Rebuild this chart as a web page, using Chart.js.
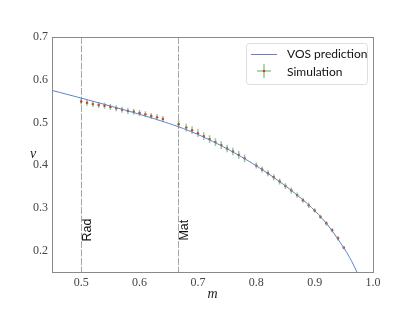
<!DOCTYPE html>
<html>
<head>
<meta charset="utf-8">
<script src="https://cdn.jsdelivr.net/npm/chart.js@4/dist/chart.umd.min.js"></script>
<style>
  html, body { margin: 0; padding: 0; background: #fff; }
  #wrap { width: 415px; height: 312px; }
</style>
</head>
<body>
<div id="wrap"><canvas id="myChart" width="415" height="312"></canvas></div>
<script>
// VOS prediction curve
const vosM = [0.45, 0.475, 0.50, 0.525, 0.55, 0.575, 0.60, 0.625, 0.65, 0.675, 0.70, 0.725, 0.75, 0.775, 0.80, 0.825, 0.85, 0.875, 0.90, 0.925, 0.95, 0.96, 0.965, 0.97, 0.975, 0.98];
const vosV = [0.575, 0.5661, 0.557, 0.5478, 0.5385, 0.529, 0.5191, 0.5088, 0.4978, 0.4858, 0.4718, 0.4558, 0.4383, 0.4193, 0.3985, 0.376, 0.3515, 0.3245, 0.294, 0.2553, 0.2065, 0.184, 0.171, 0.157, 0.142, 0.126];

// simulation points with error bars
const simM = [0.50, 0.51, 0.52, 0.53, 0.54, 0.55, 0.56, 0.57, 0.58, 0.59, 0.60, 0.61, 0.62, 0.63, 0.64,
              0.667, 0.68, 0.69, 0.70, 0.71, 0.72, 0.73, 0.74, 0.75, 0.76, 0.77, 0.78,
              0.80, 0.81, 0.82, 0.83, 0.84, 0.85, 0.86, 0.87, 0.88, 0.89, 0.90, 0.91, 0.92, 0.93, 0.94, 0.95];
const simV = [0.549, 0.546, 0.543, 0.541, 0.539, 0.536, 0.533, 0.530, 0.527, 0.525, 0.522, 0.519, 0.515, 0.512, 0.508,
              0.496, 0.488, 0.482, 0.475, 0.468, 0.461, 0.454, 0.447, 0.439, 0.432, 0.424, 0.416,
              0.399, 0.390, 0.381, 0.372, 0.362, 0.351, 0.341, 0.330, 0.318, 0.306, 0.294, 0.279, 0.264, 0.248, 0.229, 0.207];
const simErr = [0.007, 0.007, 0.007, 0.007, 0.007, 0.007, 0.007, 0.007, 0.007, 0.007, 0.007, 0.007, 0.007, 0.007, 0.007,
                0.009, 0.009, 0.009, 0.009, 0.009, 0.009, 0.009, 0.009, 0.009, 0.009, 0.009, 0.009,
                0.007, 0.007, 0.007, 0.007, 0.007, 0.007, 0.007, 0.006, 0.006, 0.006, 0.005, 0.005, 0.005, 0.005, 0.005, 0.004];
const simMErr = 0.002;

const xTicks = [0.5, 0.6, 0.7, 0.8, 0.9, 1.0];
const yTicks = [0.2, 0.3, 0.4, 0.5, 0.6, 0.7];

const markers = [{ m: 0.5, label: 'Rad' }, { m: 2 / 3, label: 'Mat' }];

const lineColor = 'rgb(95,128,205)';
const barColor = 'rgba(60,175,75,0.6)';
const dotColor = 'rgb(220,60,50)';
const serif = '"Liberation Serif", "DejaVu Serif", serif';
const sans = 'Lato, "DejaVu Sans", sans-serif';

const extras = {
  id: 'extras',
  beforeDatasetsDraw(chart) {
    const ctx = chart.ctx;
    const xs = chart.scales.x, ys = chart.scales.y;
    const a = chart.chartArea;
    ctx.save();
    ctx.strokeStyle = '#a8a8a8';
    ctx.lineWidth = 1;
    ctx.setLineDash([7, 1.5]);
    markers.forEach(mk => {
      const px = Math.round(xs.getPixelForValue(mk.m)) + 0.5;
      ctx.beginPath();
      ctx.moveTo(px, a.top);
      ctx.lineTo(px, a.bottom);
      ctx.stroke();
    });
    ctx.setLineDash([]);
    ctx.fillStyle = '#111';
    ctx.font = '12.5px "Liberation Sans", Arial, sans-serif';
    markers.forEach(mk => {
      const px = xs.getPixelForValue(mk.m);
      ctx.save();
      ctx.translate(px + 6.5, ys.getPixelForValue(0.248));
      ctx.rotate(-Math.PI / 2);
      ctx.textAlign = 'center';
      ctx.textBaseline = 'middle';
      ctx.fillText(mk.label, 0, 0);
      ctx.restore();
    });
    ctx.restore();
  },
  beforeDatasetDraw(chart, args) {
    if (args.index !== 1) return;
    const ctx = chart.ctx;
    const xs = chart.scales.x, ys = chart.scales.y;
    ctx.save();
    ctx.strokeStyle = barColor;
    ctx.lineWidth = 1.5;
    simM.forEach((m, i) => {
      const px = xs.getPixelForValue(m);
      const py = ys.getPixelForValue(simV[i]);
      ctx.beginPath();
      ctx.moveTo(px, ys.getPixelForValue(simV[i] - simErr[i]));
      ctx.lineTo(px, ys.getPixelForValue(simV[i] + simErr[i]));
      ctx.moveTo(xs.getPixelForValue(m - simMErr), py);
      ctx.lineTo(xs.getPixelForValue(m + simMErr), py);
      ctx.stroke();
    });
    ctx.restore();
  },
  afterDraw(chart) {
    const ctx = chart.ctx;
    const a = chart.chartArea;
    ctx.save();
    // frame
    ctx.strokeStyle = '#8a8a8a';
    ctx.lineWidth = 1;
    ctx.strokeRect(Math.round(a.left) + 0.5, Math.round(a.top) + 0.5,
      Math.round(a.right - a.left), Math.round(a.bottom - a.top));
    // axis titles
    ctx.fillStyle = '#222';
    ctx.font = 'italic 14px ' + serif;
    ctx.textAlign = 'center';
    ctx.textBaseline = 'middle';
    ctx.fillText('m', (a.left + a.right) / 2, 294);
    ctx.fillText('v', 33, (a.top + a.bottom) / 2);
    // legend
    const lx = 246, ly = 43, lw = 121, lh = 41;
    ctx.fillStyle = 'rgba(255,255,255,0.85)';
    ctx.strokeStyle = '#dedede';
    ctx.beginPath();
    ctx.roundRect(lx + 0.5, ly + 0.5, lw, lh, 3);
    ctx.fill();
    ctx.stroke();
    ctx.strokeStyle = lineColor;
    ctx.lineWidth = 1;
    ctx.beginPath();
    ctx.moveTo(251, 54.5);
    ctx.lineTo(277, 54.5);
    ctx.stroke();
    ctx.strokeStyle = barColor;
    ctx.lineWidth = 1.5;
    ctx.beginPath();
    ctx.moveTo(264, 64);
    ctx.lineTo(264, 78);
    ctx.moveTo(257, 71);
    ctx.lineTo(271, 71);
    ctx.stroke();
    ctx.fillStyle = dotColor;
    ctx.beginPath();
    ctx.arc(264, 71, 1.3, 0, Math.PI * 2);
    ctx.fill();
    ctx.fillStyle = '#111';
    ctx.font = '12px ' + sans;
    ctx.textAlign = 'left';
    ctx.textBaseline = 'middle';
    ctx.fillText('VOS prediction', 287, 54);
    ctx.fillText('Simulation', 287, 72);
    ctx.restore();
  }
};

const ctx = document.getElementById('myChart').getContext('2d');
new Chart(ctx, {
  type: 'scatter',
  data: {
    datasets: [{
      label: 'VOS prediction',
      data: vosM.map((m, i) => ({ x: m, y: vosV[i] })),
      showLine: true,
      borderColor: lineColor,
      borderWidth: 1,
      pointRadius: 0,
      tension: 0.3
    }, {
      label: 'Simulation',
      data: simM.map((m, i) => ({ x: m, y: simV[i] })),
      pointRadius: 1.2,
      pointBackgroundColor: dotColor,
      pointBorderWidth: 0,
      showLine: false
    }]
  },
  options: {
    responsive: false,
    animation: false,
    layout: { padding: { left: 0, top: 37, right: 42, bottom: 0 } },
    plugins: { legend: { display: false }, tooltip: { enabled: false } },
    scales: {
      x: {
        type: 'linear', min: 0.45, max: 1.0,
        grid: { display: false, drawTicks: false },
        border: { display: false },
        afterBuildTicks: s => { s.ticks = xTicks.map(v => ({ value: v })); },
        afterFit: s => { s.height = 40; },
        ticks: {
          padding: 4, color: '#444', maxRotation: 0,
          font: { family: serif, size: 12 },
          callback: v => v.toFixed(1)
        }
      },
      y: {
        type: 'linear', min: 0.15, max: 0.7,
        grid: { display: false, drawTicks: false },
        border: { display: false },
        afterBuildTicks: s => { s.ticks = yTicks.map(v => ({ value: v })); },
        afterFit: s => { s.width = 52; },
        ticks: {
          padding: 4, color: '#444',
          font: { family: serif, size: 12 },
          callback: v => v.toFixed(1)
        }
      }
    }
  },
  plugins: [extras]
});
</script>
</body>
</html>
